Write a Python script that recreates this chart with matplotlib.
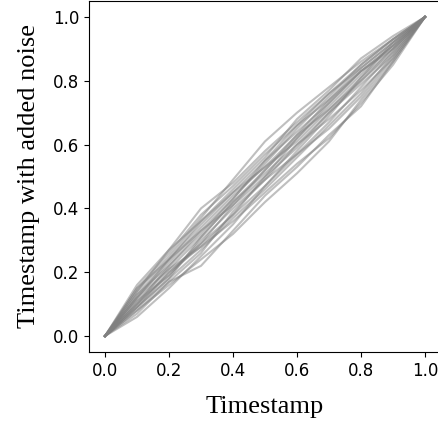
import matplotlib
matplotlib.use("Agg")
import matplotlib.pyplot as plt
import numpy as np

timestamps = [0.0, 0.1, 0.2, 0.3, 0.4, 0.5, 0.6, 0.7, 0.8, 0.9, 1.0]

# noisy timestamps, interior points (ends are 0 and 1)
noisy = [
    [0.16, 0.27, 0.40, 0.48, 0.58, 0.67, 0.76, 0.85, 0.93],
    [0.07, 0.17, 0.22, 0.33, 0.44, 0.53, 0.63, 0.72, 0.86],
    [0.12, 0.24, 0.35, 0.45, 0.55, 0.64, 0.73, 0.83, 0.91],
    [0.09, 0.18, 0.27, 0.37, 0.46, 0.56, 0.66, 0.76, 0.88],
    [0.14, 0.25, 0.37, 0.49, 0.61, 0.70, 0.78, 0.86, 0.93],
    [0.08, 0.16, 0.24, 0.32, 0.42, 0.51, 0.61, 0.74, 0.86],
    [0.11, 0.21, 0.31, 0.42, 0.52, 0.62, 0.72, 0.82, 0.91],
    [0.13, 0.22, 0.33, 0.41, 0.50, 0.59, 0.70, 0.80, 0.90],
    [0.10, 0.19, 0.29, 0.38, 0.47, 0.58, 0.69, 0.81, 0.92],
    [0.15, 0.26, 0.38, 0.47, 0.57, 0.66, 0.74, 0.83, 0.90],
    [0.09, 0.20, 0.28, 0.36, 0.45, 0.54, 0.62, 0.73, 0.85],
    [0.12, 0.23, 0.34, 0.44, 0.53, 0.63, 0.74, 0.84, 0.92],
    [0.06, 0.15, 0.25, 0.35, 0.47, 0.57, 0.67, 0.78, 0.89],
    [0.14, 0.27, 0.36, 0.46, 0.56, 0.68, 0.77, 0.87, 0.94],
    [0.11, 0.19, 0.30, 0.40, 0.49, 0.57, 0.65, 0.75, 0.87],
    [0.10, 0.22, 0.32, 0.43, 0.54, 0.65, 0.75, 0.85, 0.93],
    [0.08, 0.17, 0.26, 0.39, 0.49, 0.60, 0.70, 0.79, 0.88],
    [0.13, 0.24, 0.36, 0.45, 0.53, 0.61, 0.71, 0.80, 0.89],
    [0.12, 0.21, 0.28, 0.38, 0.50, 0.62, 0.73, 0.83, 0.91],
    [0.09, 0.18, 0.31, 0.42, 0.51, 0.60, 0.68, 0.77, 0.87],
    [0.15, 0.24, 0.33, 0.43, 0.55, 0.66, 0.76, 0.84, 0.92],
    [0.10, 0.20, 0.29, 0.41, 0.52, 0.63, 0.71, 0.81, 0.90],
]

fig = plt.figure(figsize=(4.38, 4.23), dpi=100)
ax = fig.add_axes([89 / 438, 71 / 423, 352 / 438, 351 / 423])

for row in noisy:
    ax.plot(timestamps, [0.0] + row + [1.0], color="gray", alpha=0.5, lw=1.5)

ax.set_xlim(-0.05, 1.05)
ax.set_ylim(-0.05, 1.05)
ax.set_xticks([0.0, 0.2, 0.4, 0.6, 0.8, 1.0])
ax.set_yticks([0.0, 0.2, 0.4, 0.6, 0.8, 1.0])
ax.tick_params(labelsize=12)
ax.spines["right"].set_visible(False)

serif = ["Liberation Serif", "DejaVu Serif"]
ax.set_xlabel("Timestamp", fontsize=19, family=serif, labelpad=12)
ax.set_ylabel("Timestamp with added noise", fontsize=19, family=serif, labelpad=9)

fig.savefig("out.png", dpi=100)
